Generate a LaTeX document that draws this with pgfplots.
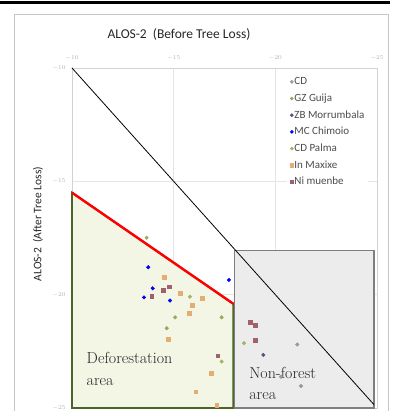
\documentclass[border=0pt]{standalone}
\usepackage{fontspec}
\newfontfamily\carlito{Carlito}
\usepackage{pgfplots}
\pgfplotsset{compat=1.18}
\definecolor{defill}{HTML}{F4F6E5}
\definecolor{deborder}{HTML}{4F6228}
\definecolor{nfill}{HTML}{ECECEC}
\definecolor{nborder}{HTML}{7F7F7F}
\definecolor{cCD}{HTML}{9A9A9A}
\definecolor{cGZ}{HTML}{A5A260}
\definecolor{cZB}{HTML}{55557A}
\definecolor{cMC}{HTML}{0000FF}
\definecolor{cPalma}{HTML}{A3B55C}
\definecolor{cMax}{HTML}{E2AE72}
\definecolor{cNi}{HTML}{A0606E}
\begin{document}
\begin{tikzpicture}[x=1pt,y=1pt]
\begin{axis}[at={(0,0)}, anchor=south west, scale only axis,
  width=305pt, height=340pt,
  xmin=-25, xmax=-10, ymin=-25, ymax=-10, x dir=reverse,
  xtick={-10,-15,-20,-25}, ytick={-10,-15,-20,-25},
  xticklabel pos=upper,
  tick label style={font=\fontsize{6}{7}\selectfont, text=gray!60},
  xticklabel style={yshift=4pt},
  yticklabel style={xshift=-3pt},
  major tick length=0pt,
  grid=major, grid style={gray!20, line width=0.4pt},
  axis line style={gray!35},
  clip=false,
  legend style={draw=none, fill=white, at={(0.705,0.985)}, anchor=north west,
    font=\carlito\fontsize{11}{12}\selectfont, text=black!70,
    nodes={inner sep=1pt, text height=8.5pt, text depth=2.5pt},
    row sep=3.7pt},
  legend cell align=left,
  legend image code/.code={\draw[#1, mark size=1.6pt] plot coordinates {(3pt,0pt)};},
]
% areas
\addplot[forget plot, draw=deborder, fill=defill, line width=1.8pt]
  coordinates {(-10,-15.5) (-17.93,-20.4) (-17.93,-25) (-10,-25)} -- cycle;
\addplot[forget plot, draw=nborder, fill=nfill, line width=1.3pt]
  coordinates {(-18,-18.05) (-24.85,-18.05) (-24.85,-25) (-18,-25)} -- cycle;
\addplot[forget plot, red, line width=2.4pt] coordinates {(-10,-15.5) (-17.93,-20.4)};
\addplot[forget plot, black, line width=0.8pt] coordinates {(-10,-10) (-24.85,-24.85)};
% series
\addplot[only marks, mark=*, mark size=1.8pt, color=cCD] coordinates {
 (-21.08,-22.20) (-20.28,-23.62) (-21.26,-24.03)};
\addlegendentry{CD}
\addplot[only marks, mark=*, mark size=1.8pt, color=cGZ] coordinates {
 (-13.67,-17.49) (-14.66,-21.48) (-15.07,-21.0) (-17.36,-21.0)};
\addlegendentry{GZ Guija}
\addplot[only marks, mark=*, mark size=1.8pt, color=cZB] coordinates {
 (-19.41,-22.66)};
\addlegendentry{ZB Morrumbala}
\addplot[only marks, mark=*, mark size=1.8pt, color=cMC] coordinates {
 (-13.75,-18.79) (-13.97,-19.72) (-13.54,-20.12) (-14.82,-20.26) (-17.72,-19.35)};
\addlegendentry{MC Chimoio}
\addplot[only marks, mark=*, mark size=1.8pt, color=cPalma] coordinates {
 (-15.80,-20.09) (-17.36,-22.95) (-18.46,-22.14)};
\addlegendentry{CD Palma}
\addplot[only marks, mark=square*, mark size=1.9pt, color=cMax] coordinates {
 (-14.53,-19.23) (-15.31,-19.94) (-16.41,-20.16) (-15.92,-20.47) (-15.76,-20.82)
 (-14.74,-21.97) (-16.84,-23.47) (-16.08,-24.28) (-17.12,-24.87)};
\addlegendentry{In Maxixe}
\addplot[only marks, mark=square*, mark size=1.9pt, color=cNi] coordinates {
 (-13.92,-20.06) (-14.49,-19.79) (-14.79,-19.65) (-17.17,-22.69)
 (-18.76,-21.23) (-19.00,-21.34) (-19.00,-22.0)};
\addlegendentry{Ni muenbe}
% area labels
\node[anchor=west, align=left, font=\fontsize{16}{22}\selectfont, text=black!85]
  at (axis cs:-10.55,-23.26) {Deforestation\\area};
\node[anchor=west, align=left, font=\fontsize{16}{21}\selectfont, text=black!85]
  at (axis cs:-18.55,-23.9) {Non-forest\\area};
\end{axis}
% title and y label
\node[font=\carlito\fontsize{13.5}{15}\selectfont, text=black!85] at (107,373) {ALOS-2~~(Before Tree Loss)};
\node[font=\carlito\fontsize{11.5}{13}\selectfont, text=black!85, rotate=90] at (-34,184) {ALOS-2~~(After Tree Loss)};
% frame
\draw[gray!45, line width=0.6pt] (-58,-5) -- (-58,394) -- (316,394) -- (316,-5);
\draw[black, line width=3pt] (-72,405.5) -- (318,405.5);
\pgfresetboundingbox
\useasboundingbox (-72,-3) rectangle (320,408);
\end{tikzpicture}
\end{document}
